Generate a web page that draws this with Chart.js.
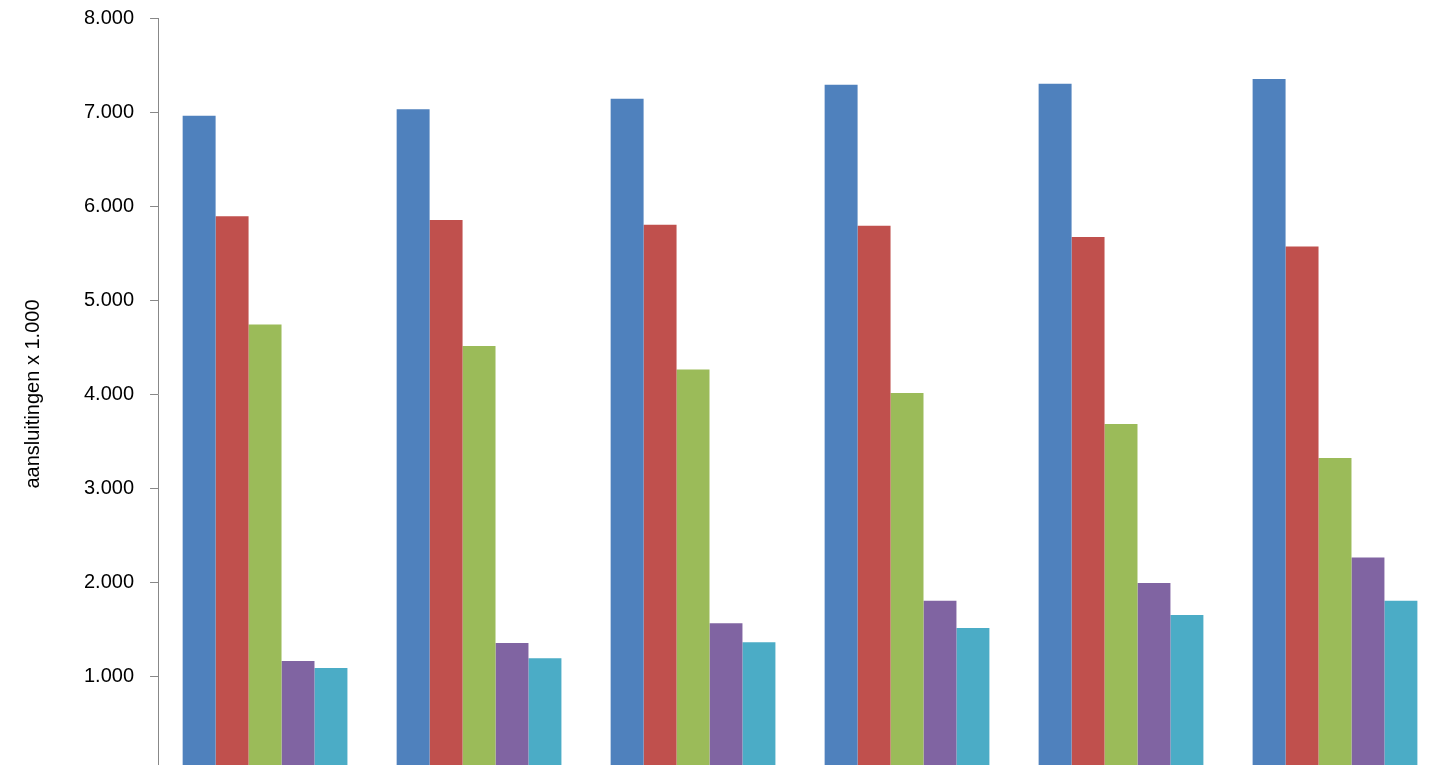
<!DOCTYPE html>
<html><head><meta charset="utf-8">
<script src="https://cdn.jsdelivr.net/npm/chart.js@4"></script>
<style>html,body{margin:0;padding:0;overflow:hidden;background:#fff}#w{width:1442px;height:808px;position:relative;margin-top:-10px}</style>
</head><body><div id="w"><canvas id="c"></canvas></div>
<script>
const categories=["1","2","3","4","5","6"];
const s1=[6960,7030,7140,7290,7300,7350];
const s2=[5890,5850,5800,5790,5670,5570];
const s3=[4740,4510,4260,4010,3680,3320];
const s4=[1160,1350,1560,1800,1990,2260];
const s5=[1085,1190,1360,1510,1650,1800];
const yTicks=[0,1000,2000,3000,4000,5000,6000,7000,8000];
const colors=["#4F81BD","#C0504D","#9BBB59","#8064A2","#4BACC6"];
const series=[s1,s2,s3,s4,s5];
new Chart(document.getElementById('c'),{type:'bar',
data:{labels:categories,datasets:series.map((d,i)=>({data:d,backgroundColor:colors[i],borderWidth:0}))},
options:{responsive:true,maintainAspectRatio:false,animation:false,
layout:{padding:{top:0,left:14,right:0,bottom:0}},
plugins:{legend:{display:false},tooltip:{enabled:false}},
datasets:{bar:{categoryPercentage:0.77,barPercentage:1}},
scales:{
x:{grid:{display:false,drawTicks:false},border:{color:'#888'},ticks:{display:false}},
y:{min:0,max:8000,afterBuildTicks:a=>{a.ticks=yTicks.map(v=>({value:v}))},
grid:{display:true,drawOnChartArea:false,drawTicks:true,tickLength:8,color:'#888'},border:{color:'#888'},
ticks:{color:'#000',padding:16,font:{family:'Liberation Sans',size:20},callback:v=>v===0?'':v.toLocaleString('de-DE')},
title:{display:true,text:'aansluitingen x 1.000',color:'#000',font:{family:'Liberation Sans',size:20},padding:{top:7,bottom:23}}}
}}});
</script></body></html>
